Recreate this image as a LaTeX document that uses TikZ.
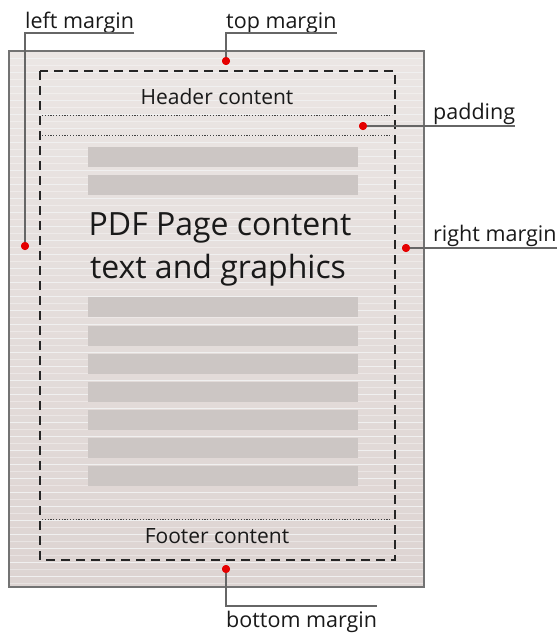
\documentclass[tikz,border=0pt]{standalone}
\usepackage{fontspec}
\setmainfont{Open Sans}
\begin{document}
\begin{tikzpicture}[x=1pt,y=-1pt,
  lbl/.style={inner sep=0pt,anchor=base west,font=\fontsize{21.5}{23}\selectfont,text=black!90},
  lead/.style={draw=black!60,line width=1.1pt},
  rdot/.style={circle,fill=red!90!black,inner sep=0pt,minimum size=8pt},
  dashbox/.style={draw=black!85,line width=1.4pt,dash pattern=on 9pt off 6pt},
  dotline/.style={draw=black!75,line width=0.8pt,dash pattern=on 1.2pt off 1.6pt},
  midtxt/.style={inner sep=0pt,anchor=base,text=black!90}]
\useasboundingbox (0,0) rectangle (560,633);
\fill[white] (0,0) rectangle (560,633);
% page
\definecolor{pagetop}{HTML}{EBE6E4}
\definecolor{pagebot}{HTML}{DDD4D2}
\definecolor{barc}{HTML}{CCC6C4}
\shade[top color=pagetop, bottom color=pagebot] (9,51) rectangle (424,587);
\foreach \yy in {58,72,...,584} {\draw[black!6,line width=0.8pt] (10,\yy) -- (423,\yy);}
\foreach \yy in {65,79,...,584} {\draw[white,opacity=0.35,line width=0.8pt] (10,\yy) -- (423,\yy);}
\draw[black!55,line width=1.2pt] (9,51) rectangle (424,587);
% bars
\foreach \yy in {147,175,297,326,354,382,410,438,466} {\fill[barc] (88,\yy) rectangle (358,\yy+20);}
% dashed content box
\draw[dashbox] (40,71) rectangle (395,560);
\draw[dotline] (42,115) -- (392,115);
\draw[dotline] (42,135) -- (392,135);
\draw[dotline] (42,519) -- (392,519);
\node[midtxt,font=\fontsize{21}{23}\selectfont] (hdr) at (217,104) {Header content};
\node[midtxt,font=\fontsize{21}{23}\selectfont] (ftr) at (217,543) {Footer content};
\node[midtxt,font=\fontsize{32}{34}\selectfont] (big1) at (220,235) {PDF Page content};
\node[midtxt,font=\fontsize{32}{34}\selectfont] (big2) at (218,278) {text and graphics};
% dots
\node[rdot] (dl) at (25,246) {};
\node[rdot] (dt) at (226,61) {};
\node[rdot] (dp) at (363,126) {};
\node[rdot] (dr) at (406,248) {};
\node[rdot] (db) at (226,569) {};
% labels
\node[lbl] (ll) at (25,28) {left margin};
\node[lbl] (lt) at (226,28) {top margin};
\node[lbl] (lp) at (433,119) {padding};
\node[lbl] (lr) at (433,241) {right margin};
\node[lbl] (lb) at (226,627) {bottom margin};
\coordinate (ll1) at (ll.base east |- 0,33);
\coordinate (ll0) at (25,33);
\coordinate (lt1) at (lt.base east |- 0,33);
\coordinate (lt0) at (226,33);
\coordinate (lp1) at (lp.base east |- 0,126);
\coordinate (lr1) at (lr.base east |- 0,248);
\coordinate (lb1) at (lb.base east |- 0,606);
\coordinate (lb0) at (226,606);
\draw[lead] (ll1) -- (ll0) -- (dl.center);
\draw[lead] (lt1) -- (lt0) -- (dt.center);
\draw[lead] (dp.center) -- (lp1);
\draw[lead] (dr.center) -- (lr1);
\draw[lead] (db.center) -- (lb0) -- (lb1);
\foreach \n in {dl,dt,dp,dr,db} {\node[rdot] at (\n) {};}
\end{tikzpicture}
\end{document}
